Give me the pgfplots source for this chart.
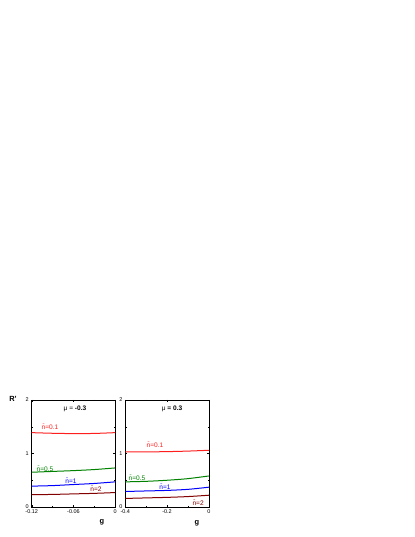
\documentclass[border=0pt]{standalone}
\usepackage{fontspec}
\setmainfont{Liberation Sans}
\usepackage{pgfplots}
\pgfplotsset{compat=1.18}

\definecolor{cred}{RGB}{255,30,30}
\definecolor{cgreen}{RGB}{0,130,0}
\definecolor{cblue}{RGB}{0,0,255}
\definecolor{cdark}{RGB}{130,0,0}

\tikzset{lbl/.style={font=\fontsize{6.6}{7}\selectfont}}
\pgfplotsset{
  panel/.style={
    scale only axis, width=83.5bp, height=107bp, anchor=south west,
    ymin=0, ymax=2, ytick={0,1,2}, minor y tick num=1,
    minor x tick num=1,
    tick align=inside,
    major tick length=2bp, minor tick length=1.2bp,
    axis line style={line width=0.5bp},
    every tick/.style={line width=0.4bp},
    tick label style={font=\fontsize{5.5}{6}\selectfont, inner sep=0.4bp},
    /pgf/number format/assume math mode=true,
    xticklabel style={yshift=-2.3bp},
    yticklabel style={xshift=-2.4bp, yshift=0.3bp},
    clip=false,
  },
}

\begin{document}
\begin{tikzpicture}
\useasboundingbox (0,0) rectangle (415bp,537bp);

\begin{axis}[panel, at={(31.7bp,30bp)},
  xmin=-0.12, xmax=0, xtick={-0.12,-0.06,0}, xticklabels={-0.12,-0.06,0}]
\addplot[cred, line width=1bp, smooth] coordinates
  {(-0.12,1.39) (-0.09,1.378) (-0.06,1.372) (-0.03,1.375) (0,1.39)};
\addplot[cgreen, line width=1bp, smooth] coordinates
  {(-0.12,0.65) (-0.09,0.665) (-0.06,0.68) (-0.03,0.70) (0,0.73)};
\addplot[cblue, line width=1bp, smooth] coordinates
  {(-0.12,0.39) (-0.09,0.40) (-0.06,0.42) (-0.03,0.44) (0,0.47)};
\addplot[cdark, line width=1bp, smooth] coordinates
  {(-0.12,0.23) (-0.09,0.235) (-0.06,0.245) (-0.03,0.255) (0,0.27)};
\node[lbl, text=cred] at (axis cs:-0.0937,1.50) {\=n=0.1};
\node[lbl, text=cgreen] at (axis cs:-0.1009,0.71) {\=n=0.5};
\node[lbl, text=cblue] at (axis cs:-0.0636,0.49) {\=n=1};
\node[lbl, text=cdark] at (axis cs:-0.0277,0.34) {\=n=2};
\node[lbl] at (axis cs:-0.0578,1.83) {μ = \textbf{-0.3}};
\end{axis}

\begin{axis}[panel, at={(125.3bp,30bp)},
  xmin=-0.4, xmax=0, xtick={-0.4,-0.2,0}, xticklabels={-0.4,-0.2,0}]
\addplot[cred, line width=1bp, smooth] coordinates
  {(-0.4,1.03) (-0.3,1.03) (-0.2,1.035) (-0.1,1.045) (0,1.06)};
\addplot[cgreen, line width=1bp, smooth] coordinates
  {(-0.4,0.47) (-0.3,0.48) (-0.2,0.50) (-0.1,0.53) (0,0.58)};
\addplot[cblue, line width=1bp, smooth] coordinates
  {(-0.4,0.29) (-0.3,0.30) (-0.2,0.31) (-0.1,0.33) (0,0.37)};
\addplot[cdark, line width=1bp, smooth] coordinates
  {(-0.4,0.16) (-0.3,0.17) (-0.2,0.18) (-0.1,0.195) (0,0.22)};
\node[lbl, text=cred] at (axis cs:-0.2576,1.16) {\=n=0.1};
\node[lbl, text=cgreen] at (axis cs:-0.344,0.54) {\=n=0.5};
\node[lbl, text=cblue] at (axis cs:-0.2096,0.37) {\=n=1};
\node[lbl, text=cdark] at (axis cs:-0.0513,0.075) {\=n=2};
\node[lbl] at (axis cs:-0.176,1.83) {μ \textbf{= 0.3}};
\end{axis}

\node[font=\fontsize{7.5}{8}\selectfont\bfseries] at (102bp,15bp) {g};
\node[font=\fontsize{7.5}{8}\selectfont\bfseries] at (197bp,14bp) {g};
\node[font=\fontsize{7.5}{8}\selectfont\bfseries] at (13bp,138bp) {R'};
\end{tikzpicture}
\end{document}
